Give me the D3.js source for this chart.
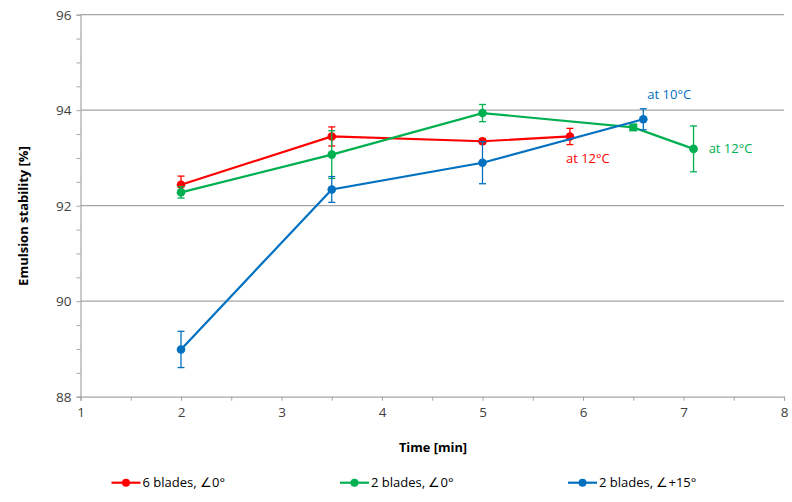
<!DOCTYPE html>
<html><head><meta charset="utf-8">
<script src="https://cdn.jsdelivr.net/npm/d3@7"></script>
<style>body{margin:0;background:#fff}svg{display:block}text{font-family:"Open Sans","Liberation Sans",sans-serif}</style>
</head><body><svg id="c" width="792" height="502"></svg>
<script>
const seriesNames = ["6 blades, \u22200\u00b0", "2 blades, \u22200\u00b0", "2 blades, \u2220+15\u00b0"];
const seriesColors = ["#FF0000", "#00B050", "#0070C0"];
const redX = [2, 3.5, 5, 5.87];
const redY = [92.44, 93.45, 93.35, 93.45];
const redErr = [0.18, 0.2, 0.05, 0.17];
const greenX = [2, 3.5, 5, 6.5, 7.1];
const greenY = [92.28, 93.07, 93.94, 93.64, 93.19];
const greenErr = [0.12, 0.5, 0.18, 0, 0.48];
const blueX = [2, 3.5, 5, 6.6];
const blueY = [88.99, 92.34, 92.9, 93.81];
const blueErr = [0.38, 0.27, 0.44, 0.22];
const xTicks = [1, 2, 3, 4, 5, 6, 7, 8];
const yTicks = [88, 90, 92, 94, 96];
const annotations = [
  {text: "at 12\u00b0C", x: 5.83, y: 93.0, s: 0},
  {text: "at 12\u00b0C", x: 7.25, y: 93.2, s: 1},
  {text: "at 10\u00b0C", x: 6.64, y: 94.34, s: 2}
];

const series = [
  {xs: redX, ys: redY, es: redErr},
  {xs: greenX, ys: greenY, es: greenErr},
  {xs: blueX, ys: blueY, es: blueErr}
];

const svg = d3.select("#c");
const L = 80.5, R = 784, T = 14.7, B = 396.7;
const x = d3.scaleLinear().domain([1, 8]).range([L, R]);
const y = d3.scaleLinear().domain([88, 96]).range([B, T]);

// gridlines
svg.append("g").selectAll("line").data(yTicks.slice(1)).join("line")
  .attr("x1", L).attr("x2", R).attr("y1", d => y(d)).attr("y2", d => y(d))
  .attr("stroke", "#A6A6A6").attr("stroke-width", 1.2);

// y axis
const ya = svg.append("g").attr("transform", `translate(${L},0)`)
  .call(d3.axisLeft(y).tickValues(d3.range(88, 96.01, 0.5)).tickSize(4).tickFormat(d => yTicks.includes(d) ? d : ""));
ya.select(".domain").attr("stroke", "#A6A6A6").attr("stroke-width", 1.2);
ya.selectAll(".tick line").attr("stroke", "#A6A6A6");
ya.selectAll(".tick text").attr("font-size", 13.5).attr("fill", "#404040").attr("dx", "-2");

// x axis
const xa = svg.append("g").attr("transform", `translate(0,${B})`)
  .call(d3.axisBottom(x).tickValues(d3.range(1, 8.01, 0.5)).tickSize(4).tickFormat(d => xTicks.includes(d) ? d : ""));
xa.select(".domain").attr("stroke", "#A6A6A6").attr("stroke-width", 1.2);
xa.selectAll(".tick line").attr("stroke", "#A6A6A6");
xa.selectAll(".tick text").attr("font-size", 13.5).attr("fill", "#404040").attr("dy", "0.95em");

// axis titles
svg.append("text").attr("x", 433).attr("y", 452).attr("text-anchor", "middle")
  .attr("font-size", 12.8).attr("font-weight", "bold").attr("fill", "#000").text("Time [min]");
svg.append("text").attr("transform", `translate(28,216) rotate(-90)`).attr("text-anchor", "middle")
  .attr("font-size", 13).attr("font-weight", "bold").attr("fill", "#000").text("Emulsion stability [%]");

const line = d3.line().x(d => x(d[0])).y(d => y(d[1]));

series.forEach((s, i) => {
  const g = svg.append("g");
  const pts = s.xs.map((xv, j) => [xv, s.ys[j], s.es[j]]);
  // error bars
  pts.filter(p => p[2] > 0).forEach(p => {
    const cx = x(p[0]);
    g.append("line").attr("x1", cx).attr("x2", cx).attr("y1", y(p[1] - p[2])).attr("y2", y(p[1] + p[2]))
      .attr("stroke", seriesColors[i]).attr("stroke-width", 1.3);
    [p[1] - p[2], p[1] + p[2]].forEach(v => g.append("line").attr("x1", cx - 3.5).attr("x2", cx + 3.5)
      .attr("y1", y(v)).attr("y2", y(v)).attr("stroke", seriesColors[i]).attr("stroke-width", 1.3));
  });
  g.append("path").datum(pts).attr("d", line).attr("fill", "none")
    .attr("stroke", seriesColors[i]).attr("stroke-width", 2.2);
  pts.forEach((p, j) => {
    if (i === 1 && j === 3) {
      g.append("rect").attr("x", x(p[0]) - 4).attr("y", y(p[1]) - 4).attr("width", 8).attr("height", 8)
        .attr("fill", seriesColors[i]);
    } else {
      g.append("circle").attr("cx", x(p[0])).attr("cy", y(p[1])).attr("r", 4.3).attr("fill", seriesColors[i]);
    }
  });
});

// annotations
annotations.forEach(a => {
  svg.append("text").attr("x", x(a.x)).attr("y", y(a.y)).attr("dy", "0.35em")
    .attr("font-size", 13).attr("fill", seriesColors[a.s]).text(a.text);
});

// legend
const legX = [111.5, 340, 568];
const lg = svg.append("g").attr("transform", "translate(0,482.7)");
seriesNames.forEach((n, i) => {
  lg.append("line").attr("x1", legX[i]).attr("x2", legX[i] + 29).attr("stroke", seriesColors[i]).attr("stroke-width", 2.2);
  lg.append("circle").attr("cx", legX[i] + 14.5).attr("r", 4).attr("fill", seriesColors[i]);
  lg.append("text").attr("x", legX[i] + 31).attr("dy", "0.35em").attr("font-size", 13).attr("fill", "#000").text(n);
});
</script></body></html>
